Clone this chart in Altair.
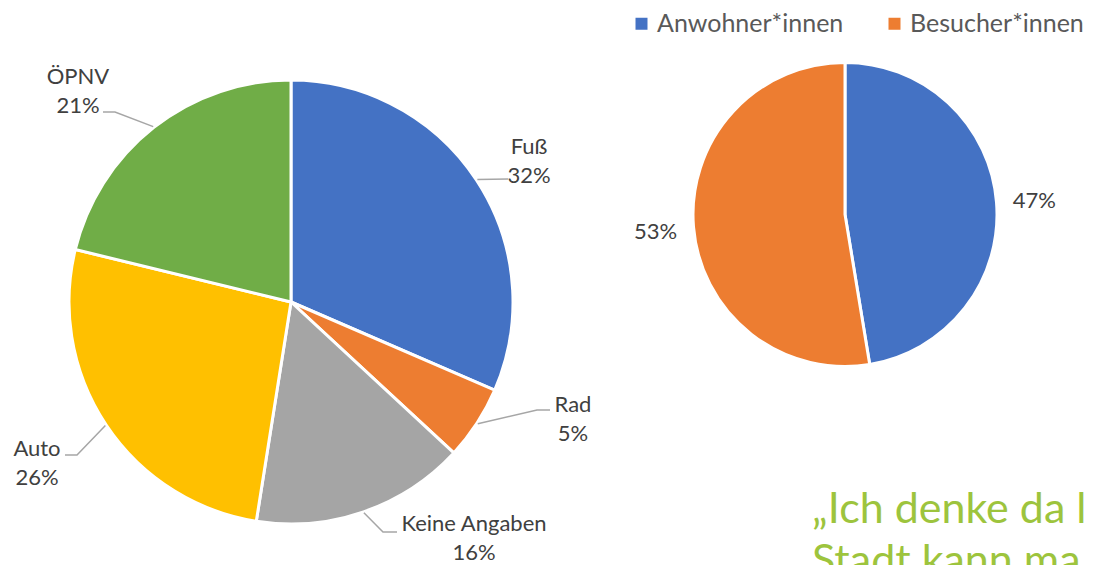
import math
import altair as alt
import pandas as pd

# ---------------- data ----------------
mode_labels = ["Fuß", "Rad", "Keine Angaben", "Auto", "ÖPNV"]
mode_values = [31.5, 5.4, 15.6, 26.3, 21.2]
mode_colors = ["#4472C4", "#ED7D31", "#A5A5A5", "#FFC000", "#70AD47"]

group_labels = ["Anwohner*innen", "Besucher*innen"]
group_values = [47.4, 52.6]
group_colors = ["#4472C4", "#ED7D31"]

quote_lines = ["„Ich denke da l", "Stadt kann ma"]

# ---------------- layout ----------------
W, H = 1081, 557
C1, R1 = (283, 294), 222
C2, R2 = (837, 206.5), 152
R2_LABEL = 190
R2_LABEL_DY = 2

# label placement relative to the left pie centre (px): label anchor, elbow, end of leader
LAYOUT1 = {
    "Fuß": dict(label=(238, -155), elbow=None, end=(217, -123)),
    "Rad": dict(label=(282, 103), elbow=(246, 108), end=(259, 108)),
    "Keine Angaben": dict(label=(183, 222), elbow=(92, 230), end=(106, 230)),
    "Auto": dict(label=(-254, 147), elbow=(-214, 153), end=(-226, 153)),
    "ÖPNV": dict(label=(-213, -225), elbow=(-176, -190), end=(-188, -190)),
}

LABEL_COLOR = "#404040"
FONT = "Lato"


def mids(values):
    tot = sum(values)
    out, acc = [], 0.0
    for v in values:
        out.append((acc + v / 2) / tot * 2 * math.pi)
        acc += v
    return out


# ---------------- tables ----------------
df1 = pd.DataFrame({"label": mode_labels, "value": mode_values, "idx": range(len(mode_labels))})
df2 = pd.DataFrame({"label": group_labels, "value": group_values, "idx": range(len(group_labels))})

lab_rows, lead_rows = [], []
for lab, v, th in zip(mode_labels, mode_values, mids(mode_values)):
    lay = LAYOUT1[lab]
    lab_rows.append({"px": C1[0] + lay["label"][0], "py": C1[1] + lay["label"][1],
                     "text": f"{lab}\n{v:.0f}%"})
    pts = [(C1[0] + (R1 + 1) * math.sin(th), C1[1] - (R1 + 1) * math.cos(th))]
    if lay["elbow"] is not None:
        pts.append((C1[0] + lay["elbow"][0], C1[1] + lay["elbow"][1]))
    pts.append((C1[0] + lay["end"][0], C1[1] + lay["end"][1]))
    for k, (x, y) in enumerate(pts):
        lead_rows.append({"label": lab, "k": k, "px": x, "py": y})
for lab, v, th in zip(group_labels, group_values, mids(group_values)):
    lab_rows.append({"px": C2[0] + R2_LABEL * math.sin(th),
                     "py": C2[1] - R2_LABEL * math.cos(th) + R2_LABEL_DY,
                     "text": f"{v:.0f}%"})

df_lab = pd.DataFrame(lab_rows)
df_lead = pd.DataFrame(lead_rows)
df_quote = pd.DataFrame({"text": ["\n".join(quote_lines)]})

xs = alt.Scale(domain=[0, W], range=[0, W])
ys = alt.Scale(domain=[0, H], range=[0, H])

# ---------------- marks ----------------
arc1 = alt.Chart(df1).mark_arc(radius=R1, stroke="white", strokeWidth=3).encode(
    theta=alt.Theta("value:Q", stack=True),
    color=alt.Color("label:N", scale=alt.Scale(domain=mode_labels, range=mode_colors), legend=None),
    order=alt.Order("idx:Q"),
    x=alt.value(C1[0]),
    y=alt.value(C1[1]),
)

arc2 = alt.Chart(df2).mark_arc(radius=R2, stroke="white", strokeWidth=3).encode(
    theta=alt.Theta("value:Q", stack=True),
    color=alt.Color(
        "label:N",
        scale=alt.Scale(domain=group_labels, range=group_colors),
        legend=alt.Legend(
            orient="none", legendX=621, legendY=3, direction="horizontal", title=None,
            symbolType="square", symbolSize=144, symbolStrokeWidth=0,
            labelFontSize=25, labelFont=FONT, labelColor="#595959", labelLimit=400,
            labelOffset=3, columnPadding=38,
        ),
    ),
    order=alt.Order("idx:Q"),
    x=alt.value(C2[0]),
    y=alt.value(C2[1]),
)

leaders = alt.Chart(df_lead).mark_line(color="#A6A6A6", strokeWidth=1.5).encode(
    x=alt.X("px:Q", scale=xs, axis=None),
    y=alt.Y("py:Q", scale=ys, axis=None),
    detail="label:N",
    order="k:Q",
)

labels = alt.Chart(df_lab).mark_text(
    font=FONT, fontSize=22, color=LABEL_COLOR, lineBreak="\n", lineHeight=29,
    align="center", baseline="middle",
).encode(
    x=alt.X("px:Q", scale=xs, axis=None),
    y=alt.Y("py:Q", scale=ys, axis=None),
    text="text:N",
)

quote = alt.Chart(df_quote).mark_text(
    font=FONT, fontSize=43, color="#9DC43D", lineBreak="\n", lineHeight=52,
    align="left", baseline="alphabetic",
).encode(
    x=alt.value(804),
    y=alt.value(515),
    text="text:N",
)

chart = alt.layer(arc1, arc2, leaders, labels, quote).resolve_scale(
    theta="independent", color="independent"
).properties(
    width=W, height=H, padding=0,
    autosize=alt.AutoSizeParams(type="none"),
).configure_view(stroke=None)

chart.save("out.html", embed_options={"renderer": "svg", "actions": False})
